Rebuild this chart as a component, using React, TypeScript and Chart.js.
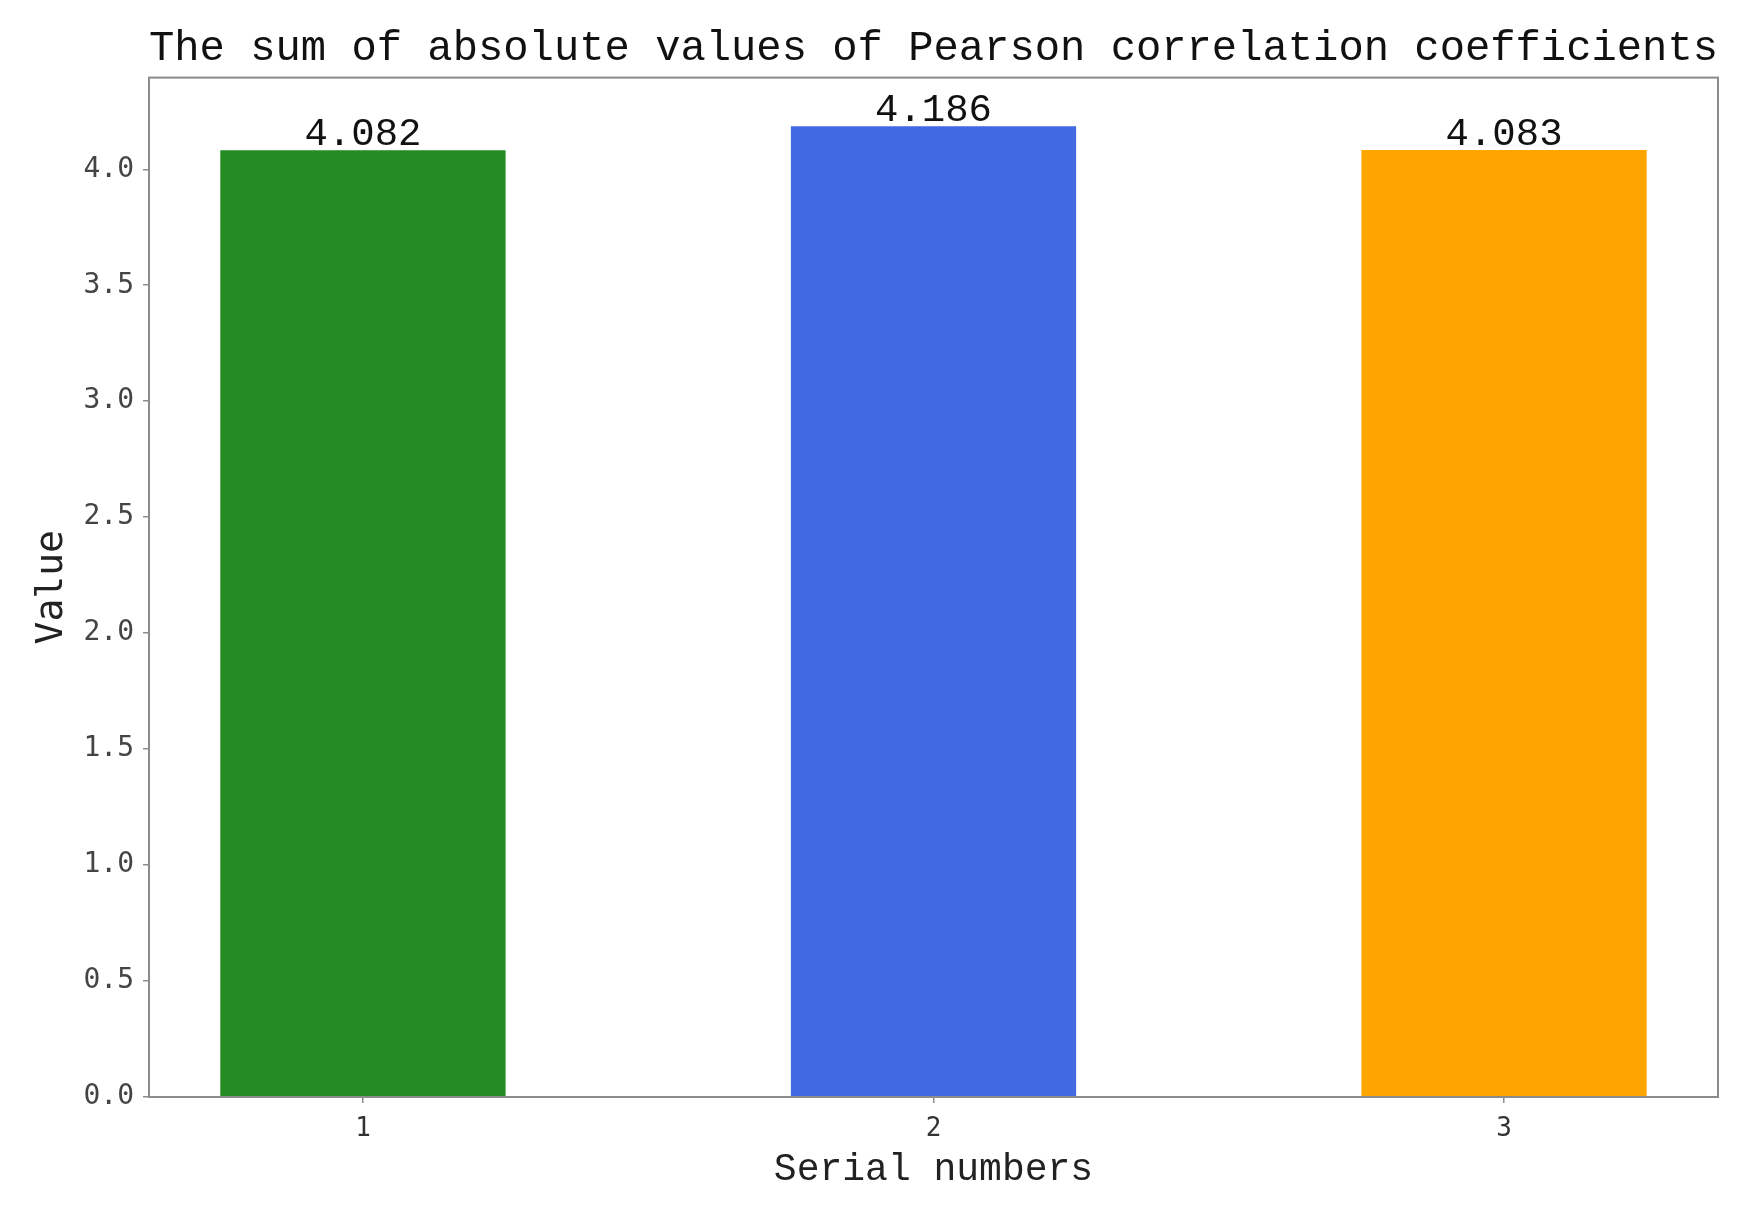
import React, { useEffect, useRef } from "react";
import { Chart, registerables } from "chart.js";

Chart.register(...registerables);

const serials = [1, 2, 3];
const values = [4.082, 4.186, 4.083];
const barColors = ["#228B22", "#4169E1", "#FFA500"];
const yTicks = [0, 0.5, 1.0, 1.5, 2.0, 2.5, 3.0, 3.5, 4.0];
const titleText = "The sum of absolute values of Pearson correlation coefficients";
const xTitle = "Serial numbers";
const yTitle = "Value";

const MONO = "'Liberation Mono', 'DejaVu Sans Mono', monospace";
const TICKFONT = "'DejaVu Sans Mono', 'Liberation Mono', monospace";
const AXIS_COLOR = "#8c8c8c";

const framePlugin = {
  id: "frame",
  afterDatasetsDraw(chart: any) {
    const { ctx, chartArea } = chart;
    ctx.save();
    ctx.strokeStyle = AXIS_COLOR;
    ctx.lineWidth = 2;
    ctx.strokeRect(chartArea.left, chartArea.top, chartArea.right - chartArea.left, chartArea.bottom - chartArea.top);
    ctx.restore();
  },
};

const valueLabelPlugin = {
  id: "valueLabels",
  afterDatasetsDraw(chart: any) {
    const { ctx } = chart;
    const meta = chart.getDatasetMeta(0);
    ctx.save();
    ctx.font = `39px ${MONO}`;
    ctx.fillStyle = "#111";
    ctx.textAlign = "center";
    ctx.textBaseline = "alphabetic";
    meta.data.forEach((bar: any, i: number) => {
      ctx.fillText(values[i].toFixed(3), bar.x, bar.y - 5);
    });
    ctx.restore();
  },
};

export default function App() {
  const canvasRef = useRef<HTMLCanvasElement | null>(null);

  useEffect(() => {
    const canvas = canvasRef.current;
    if (!canvas) return;
    const chart = new Chart(canvas, {
      type: "bar",
      data: {
        datasets: [
          {
            data: serials.map((s, i) => ({ x: s, y: values[i] })),
            backgroundColor: barColors,
            borderWidth: 0,
            categoryPercentage: 1,
            barPercentage: 0.5,
          },
        ],
      },
      options: {
        responsive: false,
        animation: false,
        devicePixelRatio: 1,
        layout: { padding: { top: 0, left: 0, right: 35, bottom: 0 } },
        plugins: {
          legend: { display: false },
          tooltip: { enabled: false },
          title: {
            display: true,
            text: titleText,
            fullSize: false,
            color: "#111",
            font: { family: MONO, size: 43, weight: "normal" },
            padding: { top: 23, bottom: 3 },
          },
        },
        scales: {
          x: {
            type: "linear",
            offset: false,
            min: 0.625,
            max: 3.375,
            afterBuildTicks: (scale: any) => {
              scale.ticks = serials.map((v) => ({ value: v }));
            },
            afterFit: (scale: any) => {
              scale.height = 115;
            },
            ticks: {
              color: "#333",
              font: { family: TICKFONT, size: 26 },
              padding: 11,
              maxRotation: 0,
              callback: (v: any) => String(v),
            },
            grid: {
              offset: false,
              drawOnChartArea: false,
              drawTicks: true,
              tickLength: 6,
              color: AXIS_COLOR,
              lineWidth: 1.5,
            },
            border: { display: true, color: AXIS_COLOR, width: 2 },
            title: {
              display: true,
              text: xTitle,
              color: "#222",
              font: { family: MONO, size: 38 },
              padding: { top: 0, bottom: 19 },
            },
          },
          y: {
            type: "linear",
            min: 0,
            max: values[1] * 1.05,
            afterBuildTicks: (scale: any) => {
              scale.ticks = yTicks.map((v) => ({ value: v }));
            },
            afterFit: (scale: any) => {
              scale.width = 149;
            },
            ticks: {
              color: "#444",
              font: { family: TICKFONT, size: 28 },
              padding: 9,
              callback: (v: any) => Number(v).toFixed(1),
            },
            grid: {
              drawOnChartArea: false,
              drawTicks: true,
              tickLength: 6,
              color: AXIS_COLOR,
              lineWidth: 1.5,
            },
            border: { display: true, color: AXIS_COLOR, width: 2 },
            title: {
              display: true,
              text: yTitle,
              color: "#222",
              font: { family: TICKFONT, size: 38 },
              padding: { top: 29, bottom: 0 },
            },
          },
        },
      },
      plugins: [framePlugin, valueLabelPlugin],
    } as any);
    return () => chart.destroy();
  }, []);

  return (
    <div style={{ position: "fixed", left: 0, top: 0, width: 1753, height: 1212, background: "#fff" }}>
      <canvas ref={canvasRef} width={1753} height={1212} style={{ display: "block" }} />
    </div>
  );
}
